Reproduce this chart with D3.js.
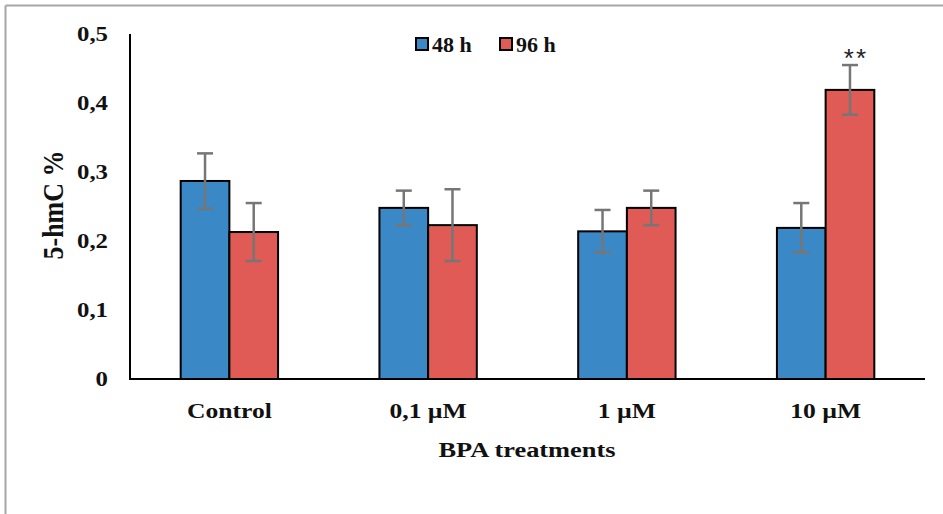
<!DOCTYPE html>
<html><head><meta charset="utf-8">
<script src="https://cdn.jsdelivr.net/npm/d3@7"></script>
<style>body{margin:0;background:#fff}svg{display:block}
.sf{font-family:"Liberation Serif","Times New Roman",Times,"DejaVu Serif",serif;font-weight:bold;fill:#111}
.ss{font-family:"Liberation Sans",Arial,"DejaVu Sans",sans-serif;fill:#222}
</style>
</head><body>
<svg id="c" width="943" height="514"></svg>
<script>
const categories = ["Control", "0,1 µM", "1 µM", "10 µM"];
const seriesNames = ["48 h", "96 h"];
const values48 = [0.287, 0.248, 0.214, 0.219];
const values96 = [0.213, 0.223, 0.248, 0.419];
const err48 = [0.040, 0.025, 0.031, 0.036];
const err96 = [0.042, 0.052, 0.025, 0.036];
const yTicks = [0, 0.1, 0.2, 0.3, 0.4, 0.5];
const yTickLabels = ["0", "0,1", "0,2", "0,3", "0,4", "0,5"];
const significance = ["", "", "", "**"];
const colors = ["#3a88c5", "#e05a56"];

const svg = d3.select("#c");

svg.append("line").attr("x1",5.5).attr("x2",943).attr("y1",5.5).attr("y2",5.5).attr("stroke","#a6a6a6").attr("stroke-width",2);
svg.append("line").attr("x1",5.5).attr("x2",5.5).attr("y1",5.5).attr("y2",514).attr("stroke","#a6a6a6").attr("stroke-width",2);

const pLeft = 130, pRight = 925, pTop = 34, pBottom = 379;
const x = d3.scaleBand().domain(categories).range([pLeft, pRight]).paddingInner(0.51).paddingOuter(0.255);
const xs = d3.scaleBand().domain(seriesNames).range([0, x.bandwidth()]);
const y = d3.scaleLinear().domain([0, 0.5]).range([pBottom, pTop]);

const data = categories.map((c,i)=>({c, vals:[values48[i], values96[i]], errs:[err48[i], err96[i]], sig:significance[i]}));

function stext(px, py, sx, size, anchor, str){
  svg.append("g").attr("transform",`translate(${px},${py}) scale(${sx},1)`)
    .append("text").attr("class","sf").attr("text-anchor",anchor).style("font-size",size+"px").text(str);
}

const g = svg.append("g");
data.forEach(d=>{
  d.vals.forEach((v,j)=>{
    const bx = x(d.c) + xs(seriesNames[j]);
    g.append("rect").attr("x",bx).attr("y",y(v)).attr("width",xs.bandwidth()).attr("height",y(0)-y(v))
      .attr("fill",colors[j]).attr("stroke","#000").attr("stroke-width",2);
  });
});
svg.append("line").attr("x1",pLeft).attr("x2",pLeft).attr("y1",pTop).attr("y2",pBottom).attr("stroke","#000").attr("stroke-width",2);
svg.append("line").attr("x1",pLeft-1).attr("x2",pRight).attr("y1",pBottom).attr("y2",pBottom).attr("stroke","#000").attr("stroke-width",2);

data.forEach(d=>{
  d.vals.forEach((v,j)=>{
    const cx = x(d.c) + xs(seriesNames[j]) + xs.bandwidth()/2;
    const e = d.errs[j];
    const eg = svg.append("g").attr("stroke","#767676").attr("stroke-width",2.5);
    eg.append("line").attr("x1",cx).attr("x2",cx).attr("y1",y(v+e)).attr("y2",y(v-e));
    eg.append("line").attr("x1",cx-8).attr("x2",cx+8).attr("y1",y(v+e)).attr("y2",y(v+e));
    eg.append("line").attr("x1",cx-8).attr("x2",cx+8).attr("y1",y(v-e)).attr("y2",y(v-e));
  });
  if(d.sig){
    const cx = x(d.c) + xs(seriesNames[1]) + xs.bandwidth()/2;
    svg.append("text").attr("class","ss").attr("x",cx+6).attr("y",y(d.vals[1]+d.errs[1])+2).attr("text-anchor","middle")
      .style("font-size","26px").style("letter-spacing","2px").text(d.sig);
  }
});

yTicks.forEach((t,i)=>{
  stext(108, y(t)+7, 1.18, 21, "end", yTickLabels[i]);
});
categories.forEach(c=>{
  stext(x(c)+x.bandwidth()/2, 418, 1.28, 20, "middle", c);
});
stext(527, 457, 1.2, 22, "middle", "BPA treatments");
svg.append("text").attr("class","sf").attr("transform","translate(63,205) rotate(-90) scale(1,1.15)").attr("text-anchor","middle")
  .style("font-size","26px").text("5-hmC %");

const lg = svg.append("g");
const legX = [416, 500];
seriesNames.forEach((s,j)=>{
  lg.append("rect").attr("x",legX[j]).attr("y",38).attr("width",12).attr("height",12)
    .attr("fill",colors[j]).attr("stroke","#000").attr("stroke-width",2);
  lg.append("text").attr("class","sf").attr("x",legX[j]+16).attr("y",52)
    .style("font-size","22px").text(s);
});
</script>
</body></html>
